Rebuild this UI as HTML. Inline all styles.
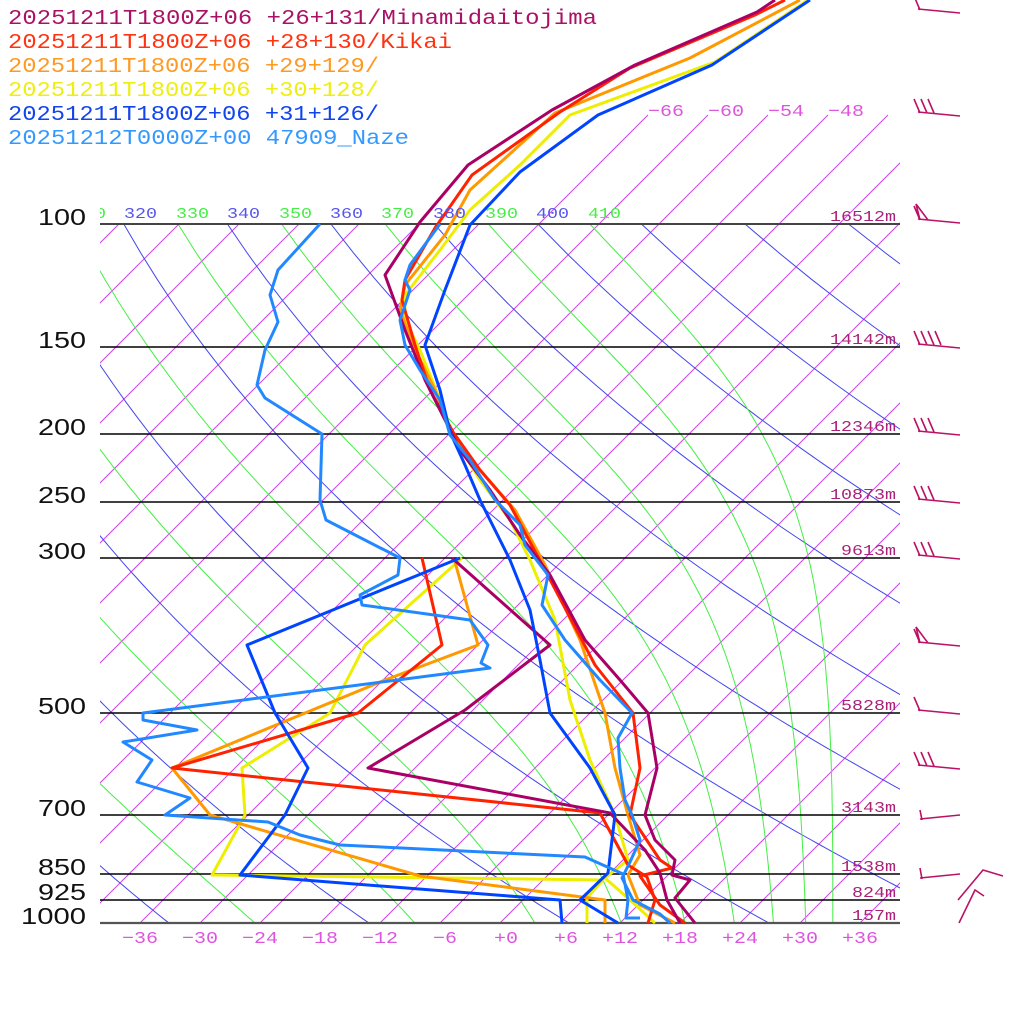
<!DOCTYPE html>
<html><head><meta charset="utf-8"><style>
html,body{margin:0;padding:0;background:#fff;}
svg{display:block;}
</style></head><body>
<svg id="s" width="1024" height="1024" xmlns="http://www.w3.org/2000/svg">
<defs>
<clipPath id="cIso"><rect x="100" y="0" width="800" height="923"/></clipPath>
<clipPath id="cAd"><rect x="100" y="224" width="800" height="699"/></clipPath>
</defs>
<g id="bg"></g>
<g id="hl" stroke="#000" stroke-width="1.4">
<line x1="100" x2="900" y1="224" y2="224" stroke="#444" stroke-width="2"/>
<line x1="100" x2="900" y1="347" y2="347"/>
<line x1="100" x2="900" y1="434" y2="434"/>
<line x1="100" x2="900" y1="502" y2="502"/>
<line x1="100" x2="900" y1="558" y2="558"/>
<line x1="100" x2="900" y1="713" y2="713"/>
<line x1="100" x2="900" y1="815" y2="815"/>
<line x1="100" x2="900" y1="874" y2="874"/>
<line x1="100" x2="900" y1="900" y2="900"/>
<line x1="100" x2="900" y1="923" y2="923" stroke="#555" stroke-width="2.2"/>
</g>
<g id="data" fill="none" stroke-width="3" stroke-linejoin="round"></g>
<g font-family="'Liberation Sans',sans-serif" font-size="23" fill="#111">
<text x="38" y="225" textLength="48">100</text><text x="38" y="348" textLength="48">150</text><text x="38" y="435" textLength="48">200</text>
<text x="38" y="503" textLength="48">250</text><text x="38" y="559" textLength="48">300</text><text x="38" y="714" textLength="48">500</text>
<text x="38" y="816" textLength="48">700</text><text x="38" y="875" textLength="48">850</text><text x="38" y="900" textLength="48">925</text><text x="21" y="924" textLength="65">1000</text>
</g>
<g font-family="'Liberation Mono',monospace" font-size="15" fill="#aa2277">
<text x="830" y="221" textLength="66">16512m</text><text x="830" y="344" textLength="66">14142m</text><text x="830" y="431" textLength="66">12346m</text>
<text x="830" y="499" textLength="66">10873m</text><text x="841" y="555" textLength="55">9613m</text><text x="841" y="710" textLength="55">5828m</text>
<text x="841" y="812" textLength="55">3143m</text><text x="841" y="871" textLength="55">1538m</text><text x="852" y="897" textLength="44">824m</text><text x="852" y="920" textLength="44">157m</text>
</g>
<g font-family="'Liberation Mono',monospace" font-size="17" fill="#dd55dd">
<text x="122" y="943" textLength="36">−36</text><text x="182" y="943" textLength="36">−30</text><text x="242" y="943" textLength="36">−24</text><text x="302" y="943" textLength="36">−18</text>
<text x="362" y="943" textLength="36">−12</text><text x="433" y="943" textLength="24">−6</text><text x="494" y="943" textLength="24">+0</text><text x="554" y="943" textLength="24">+6</text>
<text x="602" y="943" textLength="36">+12</text><text x="662" y="943" textLength="36">+18</text><text x="722" y="943" textLength="36">+24</text><text x="782" y="943" textLength="36">+30</text><text x="842" y="943" textLength="36">+36</text>
<text x="648" y="116" textLength="36">−66</text><text x="708" y="116" textLength="36">−60</text><text x="768" y="116" textLength="36">−54</text><text x="828" y="116" textLength="36">−48</text>
</g>
<g font-family="'Liberation Mono',monospace" font-size="15">
<text x="124" y="218" textLength="33" fill="#5555ee">320</text><text x="176" y="218" textLength="33" fill="#44ee44">330</text>
<text x="227" y="218" textLength="33" fill="#5555ee">340</text><text x="279" y="218" textLength="33" fill="#44ee44">350</text>
<text x="330" y="218" textLength="33" fill="#5555ee">360</text><text x="381" y="218" textLength="33" fill="#44ee44">370</text>
<text x="433" y="218" textLength="33" fill="#5555ee">380</text><text x="485" y="218" textLength="33" fill="#44ee44">390</text>
<text x="536" y="218" textLength="33" fill="#5555ee">400</text><text x="588" y="218" textLength="33" fill="#44ee44">410</text>
<text x="73" y="218" textLength="33" fill="#44ee44" clip-path="url(#cIso)">310</text>
</g>
<g font-family="'Liberation Mono',monospace" font-size="21">
<text x="8" y="24" textLength="589" fill="#aa1166">20251211T1800Z+06 +26+131/Minamidaitojima</text>
<text x="8" y="48" textLength="444" fill="#ff3311">20251211T1800Z+06 +28+130/Kikai</text>
<text x="8" y="72" textLength="371" fill="#ff9922">20251211T1800Z+06 +29+129/</text>
<text x="8" y="96" textLength="371" fill="#eeee11">20251211T1800Z+06 +30+128/</text>
<text x="8" y="120" textLength="371" fill="#1144ee">20251211T1800Z+06 +31+126/</text>
<text x="8" y="144" textLength="401" fill="#3399ff">20251212T0000Z+00 47909_Naze</text>
</g>
<g id="barbs" stroke="#bb1166" stroke-width="1.6" fill="none"></g>
</svg>
<script>
var NS="http://www.w3.org/2000/svg";
var ts=document.getElementsByTagName("text");for(var i=0;i<ts.length;i++)ts[i].setAttribute("lengthAdjust","spacingAndGlyphs");
function Y(p){return 224+303.5*Math.log(p/100);}
function X(T,y){return 500+10*T+(923-y);}
function path(d,attrs,parent){var e=document.createElementNS(NS,"path");e.setAttribute("d",d);for(var k in attrs)e.setAttribute(k,attrs[k]);parent.appendChild(e);}
var bg=document.getElementById("bg");
var gi=document.createElementNS(NS,"g");gi.setAttribute("clip-path","url(#cIso)");bg.appendChild(gi);
var ga=document.createElementNS(NS,"g");ga.setAttribute("clip-path","url(#cAd)");bg.appendChild(ga);
for(var T=-36-6*30;T<=60;T+=6){var y1=923,y2=(T>=-66)?115:224;path("M"+X(T,y1)+","+y1+"L"+X(T,y2)+","+y2,{stroke:"#cc44ee","stroke-width":"1",fill:"none"},gi);}
for(var th=200;th<=460;th+=20){var d="";for(var p=1000;p>=99;p-=10){var t=th*Math.pow(p/1000,0.286)-273.15;var y=Y(p);d+=(d?"L":"M")+X(t,y).toFixed(1)+","+y.toFixed(1);}path(d,{stroke:"#4444ee","stroke-width":"1",fill:"none"},ga);}
function the(Tk,p){var tc=Tk-273.15;var es=6.112*Math.exp(17.67*tc/(tc+243.5));var rs=0.622*es/(p-es);return Tk*Math.pow(1000/p,0.2854)*Math.exp(2.675e6*rs/(1004*Tk));}
for(var te=210;te<=410;te+=20){var d="";for(var p=1000;p>=99;p-=10){var lo=150,hi=330;for(var i=0;i<40;i++){var m=(lo+hi)/2;if(the(m,p)>te)hi=m;else lo=m;}var y=Y(p);d+=(d?"L":"M")+X(lo-273.15,y).toFixed(1)+","+y.toFixed(1);}path(d,{stroke:"#44ee44","stroke-width":"1",fill:"none"},ga);}
var data=document.getElementById("data");
function L(pts,c){var d="M"+pts.map(function(a){return a.join(",")}).join("L");path(d,{stroke:c},data);}
L([[808,0],[715,62],[570,115],[520,165],[470,210],[440,250],[405,295],[405,320],[420,350],[440,400],[455,440],[480,480],[510,520],[530,560],[555,620],[570,700],[590,760],[615,815],[628,860],[605,878],[630,900],[655,923]],"#eeee00");
L([[462,558],[365,645],[330,713],[242,768],[245,815],[212,875],[603,880],[587,898],[587,923]],"#eeee00");
L([[800,0],[690,58],[555,113],[470,190],[445,235],[405,285],[400,310],[413,345],[435,390],[450,430],[480,470],[515,510],[545,565],[580,640],[605,713],[615,768],[628,815],[640,855],[628,875],[640,905],[675,923]],"#ff9900");
L([[455,562],[478,645],[385,680],[172,768],[210,815],[420,876],[605,900],[605,923]],"#ff9900");
L([[785,0],[755,15],[630,68],[560,112],[472,175],[435,228],[405,280],[402,300],[415,345],[430,390],[453,432],[480,470],[510,505],[545,570],[595,665],[633,713],[640,768],[630,815],[660,860],[672,868],[640,876],[660,905],[685,923]],"#ff2200");
L([[422,558],[442,645],[358,713],[172,768],[600,813],[628,865],[647,877],[655,900],[648,923]],"#ff2200");
L([[775,0],[757,12],[635,65],[552,110],[468,165],[420,222],[385,275],[405,330],[425,380],[445,420],[460,450],[490,490],[520,535],[550,575],[585,640],[620,680],[648,713],[657,768],[645,815],[655,840],[675,860],[672,875],[690,880],[675,898],[695,923]],"#aa0066");
L([[452,558],[550,645],[465,710],[368,768],[610,813],[645,850],[660,873],[667,900],[680,923]],"#aa0066");
L([[810,0],[712,65],[598,115],[520,172],[470,225],[445,290],[425,345],[440,390],[450,432],[465,465],[480,500],[510,560],[530,610],[540,660],[550,713],[590,768],[615,815],[608,873],[580,900],[618,923]],"#0044ff");
L([[460,558],[247,645],[275,713],[308,768],[285,815],[240,875],[560,900],[562,923]],"#0044ff");
L([[440,224],[410,265],[405,280],[410,290],[400,320],[405,345],[420,370],[440,400],[450,435],[470,460],[495,500],[520,525],[525,545],[548,575],[542,605],[565,640],[600,680],[632,713],[618,738],[620,768],[625,800],[632,815],[640,840],[630,862],[622,878],[633,900],[660,914],[670,923]],"#2288ff");
L([[320,224],[278,270],[270,295],[278,322],[265,350],[257,385],[265,398],[322,434],[320,500],[326,520],[400,558],[398,575],[360,595],[362,605],[470,620],[488,645],[481,663],[490,668],[143,713],[143,720],[197,730],[123,742],[152,760],[137,782],[190,798],[165,815],[268,822],[300,835],[340,845],[585,857],[623,874],[628,900],[626,918],[640,918]],"#2288ff");
var bb=document.getElementById("barbs");
function barb(y,n,flag){var d="M918,"+(y-3)+"L960,"+(y+1);for(var i=0;i<n;i++){var bx=920+i*7;d+="M"+bx+","+(y-2)+"L"+(bx-6)+","+(y-16);}if(flag){d+="M920,"+(y-2)+"L916,"+(y-18)+"L928,"+(y-2);}path(d,{},bb);}
barb(12,1,0);barb(115,3,0);barb(222,1,1);barb(347,4,0);barb(434,3,0);barb(502,3,0);barb(558,3,0);barb(645,1,1);barb(713,1,0);barb(768,3,0);
path("M920,819L960,815M922,820L920,810",{},bb);path("M920,878L960,874M922,879L920,868",{},bb);
path("M958,900L983,870L1003,876M959,923L975,890L984,896",{},bb);
</script>
</body></html>
